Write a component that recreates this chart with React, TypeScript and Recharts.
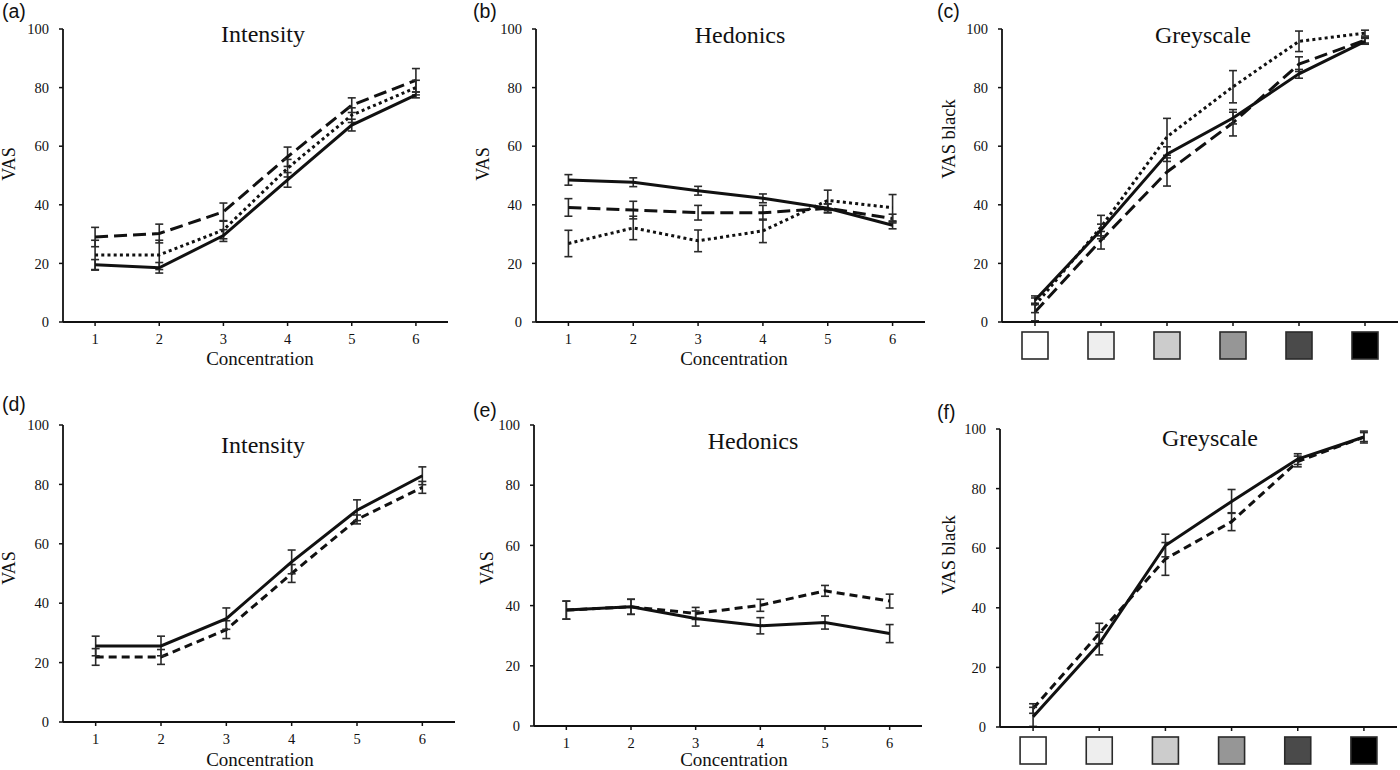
import { LineChart, Line, XAxis, YAxis, ErrorBar } from 'recharts';

const SERIF = "'Liberation Serif', 'Times New Roman', serif";
const SANS = "'Liberation Sans', Arial, sans-serif";
const INK = '#111111';

const concentrations = [1, 2, 3, 4, 5, 6];
const yTicks = [0, 20, 40, 60, 80, 100];
const greyTicks = ['#ffffff', '#eeeeee', '#cccccc', '#969696', '#4a4a4a', '#000000'];

// (a) Intensity, three groups
const aSolid = [19.5, 18.5, 29.5, 48.5, 67.2, 77.5];
const aSolidErr = [1.8, 1.8, 2, 2.5, 2, 1];
const aDashed = [29, 30.2, 37.6, 56.4, 74, 82.5];
const aDashedErr = [3.3, 3.2, 3, 3.3, 2.5, 4];
const aDotted = [22.9, 22.9, 31.4, 52.5, 70.6, 80];
const aDottedErr = [5, 5, 3, 3, 2.5, 2.5];

// (b) Hedonics, three groups
const bSolid = [48.5, 47.7, 44.8, 42.2, 38.8, 33];
const bSolidErr = [1.8, 1.5, 1.5, 1.5, 1.5, 1.2];
const bDashed = [39.1, 38.2, 37.3, 37.3, 38.8, 35.3];
const bDashedErr = [3, 3, 2.5, 2.5, 1.5, 1.5];
const bDotted = [26.8, 32.1, 27.7, 31.1, 41.5, 39];
const bDottedErr = [4.5, 4, 3.7, 4, 3.5, 4.5];

// (c) Greyscale, three groups
const cSolid = [7.4, 31.4, 57.3, 69.6, 84.7, 95.8];
const cSolidErr = [1.5, 2, 2.5, 2, 1.5, 1];
const cDashed = [3.4, 27.9, 51.2, 68, 88, 96.2];
const cDashedErr = [3, 3, 4.8, 4.5, 2.5, 1];
const cDotted = [5.7, 32.4, 63.2, 80.3, 95.8, 98.6];
const cDottedErr = [2.5, 4, 6.3, 5.5, 3.5, 1];

// (d) Intensity, two groups
const dSolid = [25.6, 25.6, 34.8, 53.9, 71.3, 82.9];
const dSolidErr = [3.3, 3.3, 3.6, 4, 3.5, 3];
const dDashed = [21.9, 21.9, 31.1, 50, 68.2, 79];
const dDashedErr = [2.8, 2.5, 3, 3, 1.5, 2];

// (e) Hedonics, two groups
const eSolid = [38.5, 39.6, 35.7, 33.3, 34.4, 30.7];
const eSolidErr = [3, 2.5, 2.5, 2.7, 2.2, 3];
const eDashed = [38.5, 39.6, 37.4, 40.1, 44.9, 41.5];
const eDashedErr = [3, 2.5, 2, 2, 1.8, 2.3];

// (f) Greyscale, two groups
const fSolid = [3.4, 28, 60.9, 75.7, 89.9, 97.3];
const fSolidErr = [3.2, 3.8, 3.8, 4, 1.8, 2];
const fDashed = [6.2, 31.4, 56.4, 68.9, 89.1, 97.3];
const fDashedErr = [1.6, 3.4, 5.5, 3, 1.8, 1.5];

type Series = { key: string; values: number[]; err: number[]; dash?: string };

const LONG_DASH = '13 6';
const SHORT_DASH = '8 5';
const DOTS = '3 3.2';

function buildRows(series: Series[]) {
  return concentrations.map((c, i) => {
    const row: Record<string, number> = { c };
    series.forEach((s) => {
      row[s.key] = s.values[i];
      row[s.key + 'Err'] = s.err[i];
    });
    return row;
  });
}

function GreyTick(props: any) {
  const { x, y, payload } = props;
  const fill = greyTicks[payload.value - 1];
  return <rect x={x - 13} y={y + 4} width={26} height={27} fill={fill} stroke="#2a2a2a" strokeWidth={1.6} />;
}

type Plot = { l: number; r: number; t: number; b: number };

function Panel({ plot, series, greyscale }: { plot: Plot; series: Series[]; greyscale?: boolean }) {
  const yw = 50;
  const mt = 10;
  const mr = 2;
  const xh = 45;
  const left = plot.l - yw;
  const top = plot.t - mt;
  const width = plot.r - plot.l + yw + mr;
  const height = plot.b - plot.t + mt + xh;
  const rows = buildRows(series);
  return (
    <div style={{ position: 'absolute', left, top, width, height }}>
      <LineChart width={width} height={height} data={rows} margin={{ top: mt, right: mr, bottom: 0, left: 0 }}>
        <XAxis
          type="number"
          dataKey="c"
          domain={[0.5, 6.5]}
          ticks={concentrations}
          height={xh}
          tickSize={4}
          tickMargin={greyscale ? 2 : 8}
          axisLine={{ stroke: INK, strokeWidth: 1.8 }}
          tickLine={{ stroke: INK, strokeWidth: 1.5 }}
          tick={greyscale ? GreyTick : { fontSize: 14.5, fill: INK, fontFamily: SERIF }}
          interval={0}
        />
        <YAxis
          type="number"
          domain={[0, 100]}
          ticks={yTicks}
          width={yw}
          tickSize={4}
          tickMargin={10}
          axisLine={{ stroke: INK, strokeWidth: 1.8 }}
          tickLine={{ stroke: INK, strokeWidth: 1.5 }}
          tick={{ fontSize: 14.5, fill: INK, fontFamily: SERIF }}
          interval={0}
        />
        {series.map((s) => (
          <Line
            key={s.key}
            type="linear"
            dataKey={s.key}
            stroke={INK}
            strokeWidth={3}
            strokeDasharray={s.dash}
            dot={false}
            activeDot={false}
            isAnimationActive={false}
          >
            <ErrorBar dataKey={s.key + 'Err'} width={4} stroke="#2a2a2a" strokeWidth={1.6} isAnimationActive={false} />
          </Line>
        ))}
      </LineChart>
    </div>
  );
}

function Txt({ x, y, size, children, font = SERIF, rotate = false, anchor = 'middle' }: any) {
  return (
    <text
      x={x}
      y={y}
      fontSize={size}
      fontFamily={font}
      fill={INK}
      textAnchor={anchor}
      transform={rotate ? `rotate(-90 ${x} ${y})` : undefined}
    >
      {children}
    </text>
  );
}

export default function App() {
  return (
    <div style={{ position: 'absolute', left: 0, top: 0, width: 1400, height: 770, overflow: 'hidden', background: '#fff' }}>
      <Panel
        plot={{ l: 63, r: 448, t: 29, b: 322 }}
        series={[
          { key: 'dashed', values: aDashed, err: aDashedErr, dash: LONG_DASH },
          { key: 'dotted', values: aDotted, err: aDottedErr, dash: DOTS },
          { key: 'solid', values: aSolid, err: aSolidErr },
        ]}
      />
      <Panel
        plot={{ l: 536, r: 925, t: 29, b: 322 }}
        series={[
          { key: 'dashed', values: bDashed, err: bDashedErr, dash: LONG_DASH },
          { key: 'dotted', values: bDotted, err: bDottedErr, dash: DOTS },
          { key: 'solid', values: bSolid, err: bSolidErr },
        ]}
      />
      <Panel
        plot={{ l: 1002, r: 1398, t: 29, b: 322 }}
        greyscale
        series={[
          { key: 'dashed', values: cDashed, err: cDashedErr, dash: LONG_DASH },
          { key: 'dotted', values: cDotted, err: cDottedErr, dash: DOTS },
          { key: 'solid', values: cSolid, err: cSolidErr },
        ]}
      />
      <Panel
        plot={{ l: 63, r: 455, t: 425, b: 722 }}
        series={[
          { key: 'dashed', values: dDashed, err: dDashedErr, dash: SHORT_DASH },
          { key: 'solid', values: dSolid, err: dSolidErr },
        ]}
      />
      <Panel
        plot={{ l: 534, r: 922, t: 425, b: 726 }}
        series={[
          { key: 'dashed', values: eDashed, err: eDashedErr, dash: SHORT_DASH },
          { key: 'solid', values: eSolid, err: eSolidErr },
        ]}
      />
      <Panel
        plot={{ l: 1000, r: 1397, t: 429, b: 727 }}
        greyscale
        series={[
          { key: 'dashed', values: fDashed, err: fDashedErr, dash: SHORT_DASH },
          { key: 'solid', values: fSolid, err: fSolidErr },
        ]}
      />

      <svg width={1400} height={770} style={{ position: 'absolute', left: 0, top: 0, pointerEvents: 'none' }}>
        <Txt x={2} y={18} size={19.5} font={SANS} anchor="start">(a)</Txt>
        <Txt x={473} y={18} size={19.5} font={SANS} anchor="start">(b)</Txt>
        <Txt x={937} y={18} size={19.5} font={SANS} anchor="start">(c)</Txt>
        <Txt x={2} y={411} size={19.5} font={SANS} anchor="start">(d)</Txt>
        <Txt x={473} y={417} size={19.5} font={SANS} anchor="start">(e)</Txt>
        <Txt x={937} y={419} size={19.5} font={SANS} anchor="start">(f)</Txt>

        <Txt x={263} y={42} size={24}>Intensity</Txt>
        <Txt x={740} y={42.5} size={24}>Hedonics</Txt>
        <Txt x={1203} y={43} size={24}>Greyscale</Txt>
        <Txt x={263} y={452.5} size={24}>Intensity</Txt>
        <Txt x={753} y={449} size={24}>Hedonics</Txt>
        <Txt x={1210} y={446} size={24}>Greyscale</Txt>

        <Txt x={260} y={365} size={19}>Concentration</Txt>
        <Txt x={734} y={365} size={19}>Concentration</Txt>
        <Txt x={260} y={766} size={19}>Concentration</Txt>
        <Txt x={734} y={766} size={19}>Concentration</Txt>

        <Txt x={15} y={164} size={18} rotate>VAS</Txt>
        <Txt x={488.5} y={164} size={18} rotate>VAS</Txt>
        <Txt x={955} y={139} size={18.5} rotate>VAS black</Txt>
        <Txt x={15} y={568} size={18} rotate>VAS</Txt>
        <Txt x={493} y={568} size={18} rotate>VAS</Txt>
        <Txt x={955} y={555} size={18.5} rotate>VAS black</Txt>
      </svg>
    </div>
  );
}
